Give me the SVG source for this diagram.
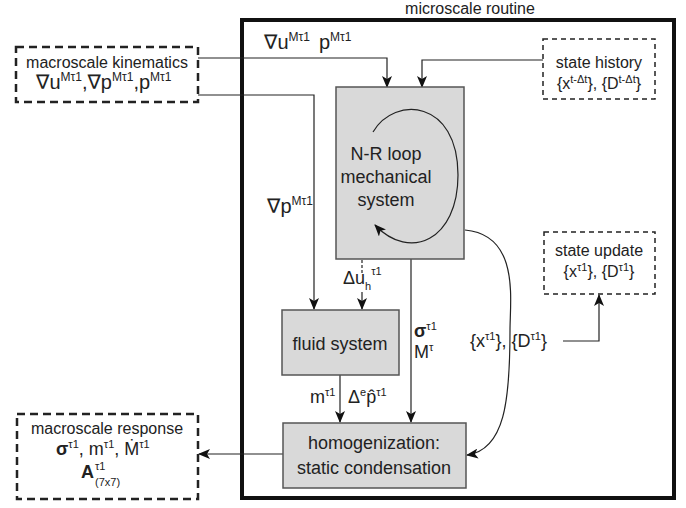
<svg xmlns="http://www.w3.org/2000/svg" width="686" height="508" viewBox="0 0 686 508">
<defs>
<marker id="ah" markerWidth="12" markerHeight="10" refX="11" refY="5" orient="auto" markerUnits="userSpaceOnUse">
<path d="M0,0 L12,5 L0,10 L3,5 z" fill="#111"/>
</marker>
<style>
text{font-family:"Liberation Sans",Arial,"DejaVu Sans",sans-serif;fill:#222}
.t16{font-size:16px}
.t18{font-size:18px}
.t20{font-size:20px}
.c{text-anchor:middle}
.box{fill:#d9d9d9;stroke:#555;stroke-width:1.5}
.dashB{fill:#fff;stroke:#222;stroke-width:2.5;stroke-dasharray:8,5}
.dashS{fill:#fff;stroke:#222;stroke-width:1.5;stroke-dasharray:5,4}
.con{fill:none;stroke:#222;stroke-width:1.2}
.sup{font-size:11px}
.sup12{font-size:12px}
</style>
</defs>
<rect width="686" height="508" fill="#fff"/>

<g id="microscale-routine">
<rect x="242" y="20" width="432" height="478" fill="none" stroke="#111" stroke-width="4"/>
<text x="470" y="14" class="t16 c">microscale routine</text>
</g>

<g id="connectors">
<path class="con" d="M198,58 H387 V87" marker-end="url(#ah)"/>
<path class="con" d="M198,95 H314 V309" marker-end="url(#ah)"/>
<path class="con" d="M543,60 H422 V87" marker-end="url(#ah)"/>
<path class="con" d="M362,260 V273" stroke-dasharray="3,2"/>
<path class="con" d="M362,292 V309" marker-end="url(#ah)"/>
<path class="con" d="M411,259 V422" marker-end="url(#ah)"/>
<path class="con" d="M340,375 V422" marker-end="url(#ah)"/>
<path class="con" d="M465,230 C520,235 510,300 510,330 C510,400 505,450 467,455" marker-end="url(#ah)"/>
<path class="con" d="M563,341 H599 V295" marker-end="url(#ah)"/>
<path class="con" d="M283,454 H199" marker-end="url(#ah)"/>
</g>

<g id="labels">
<text x="264" y="49" class="t20">∇u<tspan class="sup12" dy="-8">Mτ1</tspan><tspan dy="8" dx="9">p</tspan><tspan class="sup12" dy="-8">Mτ1</tspan></text>
<text x="267" y="213" class="t20">∇p<tspan class="sup12" dy="-8">Mτ1</tspan></text>
<text x="343" y="284" class="t18">Δu<tspan class="sup" dy="6">h</tspan><tspan class="sup" dy="-15">τ1</tspan></text>
<text x="414" y="337" class="t18" font-weight="bold">σ<tspan class="sup" font-weight="normal" dy="-7">τ1</tspan></text>
<text x="414" y="358" class="t18">M<tspan class="sup" dy="-7">τ</tspan></text>
<text x="310" y="403" class="t18">m<tspan class="sup" dy="-7">τ1</tspan></text>
<text x="348" y="403" class="t18">Δ<tspan class="sup" dy="-7">e</tspan><tspan dy="7">p̂</tspan><tspan class="sup" dy="-7">τ1</tspan></text>
<text x="470" y="347" class="t18">{x<tspan class="sup" dy="-7">τ1</tspan><tspan dy="7">}, {D</tspan><tspan class="sup" dy="-7">τ1</tspan><tspan dy="7">}</tspan></text>
</g>

<g id="macroscale-kinematics">
<rect x="16" y="47" width="182" height="55" class="dashB"/>
<text x="107" y="68" class="t16 c">macroscale kinematics</text>
<text x="36" y="89" class="t20">∇u<tspan class="sup12" dy="-8">Mτ1</tspan><tspan dy="8">,∇p</tspan><tspan class="sup12" dy="-8">Mτ1</tspan><tspan dy="8">,p</tspan><tspan class="sup12" dy="-8">Mτ1</tspan></text>
</g>

<g id="state-history">
<rect x="543" y="39" width="112" height="60" class="dashS"/>
<text x="599" y="68" class="t16 c">state history</text>
<text x="599" y="89" class="t16 c">{x<tspan class="sup" dy="-6">t-Δt</tspan><tspan dy="6">}, {D</tspan><tspan class="sup" dy="-6">t-Δt</tspan><tspan dy="6">}</tspan></text>
</g>

<g id="mechanical-system">
<rect x="336" y="87" width="128" height="172" class="box"/>
<path class="con" d="M373,132 C395,95 458,100 458,175 C458,240 410,262 375,225" marker-end="url(#ah)"/>
<text x="386" y="160" class="t18 c">N-R loop</text>
<text x="386" y="183" class="t18 c">mechanical</text>
<text x="386" y="206" class="t18 c">system</text>
</g>

<g id="state-update">
<rect x="544" y="232" width="111" height="62" class="dashS"/>
<text x="599" y="256" class="t16 c">state update</text>
<text x="599" y="277" class="t16 c">{x<tspan class="sup" dy="-6">τ1</tspan><tspan dy="6">}, {D</tspan><tspan class="sup" dy="-6">τ1</tspan><tspan dy="6">}</tspan></text>
</g>

<g id="fluid-system">
<rect x="282" y="310" width="117" height="65" class="box"/>
<text x="340" y="350" class="t18 c">fluid system</text>
</g>

<g id="homogenization">
<rect x="283" y="423" width="183" height="65" class="box"/>
<text x="374" y="449" class="t18 c">homogenization:</text>
<text x="374" y="474" class="t18 c">static condensation</text>
</g>

<g id="macroscale-response">
<rect x="17" y="414" width="181" height="85" class="dashB"/>
<text x="107" y="434" class="t16 c">macroscale response</text>
<text x="56" y="455" class="t18"><tspan font-weight="bold">σ</tspan><tspan class="sup" dy="-7">τ1</tspan><tspan dy="7">, m</tspan><tspan class="sup" dy="-7">τ1</tspan><tspan dy="7">, Ṁ</tspan><tspan class="sup" dy="-7">τ1</tspan></text>
<text x="81" y="478" class="t18" font-weight="bold">A</text>
<text x="95" y="470" class="sup">τ1</text>
<text x="95" y="486" class="sup">(7x7)</text>
</g>
</svg>
